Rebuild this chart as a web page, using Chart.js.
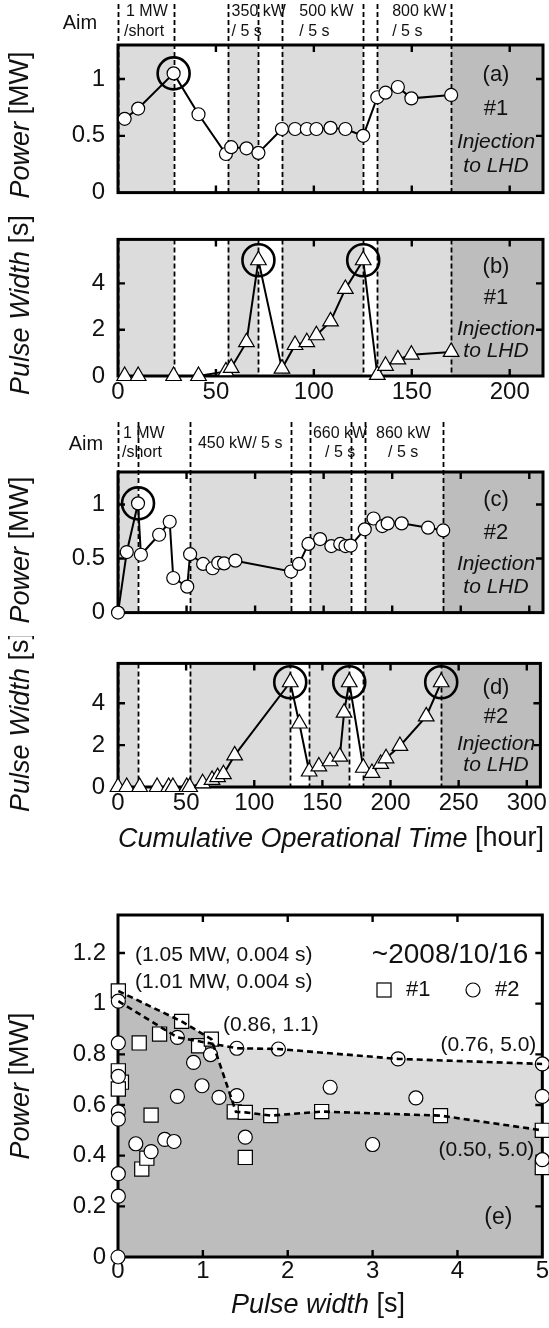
<!DOCTYPE html>
<html>
<head>
<meta charset="utf-8">
<title>Gyrotron operation history</title>
<script src="https://cdn.jsdelivr.net/npm/chart.js@4.4.1/dist/chart.umd.min.js"></script>
<style>
  html, body { margin: 0; padding: 0; background: #fff; }
  #page { position: relative; width: 549px; height: 1328px; overflow: hidden; }
  #page canvas { position: absolute; left: 0; }
</style>
</head>
<body>
<div id="page">
  <canvas id="chartA" width="549" height="220" style="top:0px"></canvas>
  <canvas id="chartB" width="549" height="200" style="top:212px"></canvas>
  <canvas id="chartC" width="549" height="235" style="top:405px"></canvas>
  <canvas id="chartD" width="549" height="224" style="top:636px"></canvas>
  <canvas id="chartE" width="549" height="468" style="top:860px"></canvas>
</div>
<script>
// Gyrotron #1 - panels (a) power and (b) pulse width vs cumulative hours
const hours1 = [3.4, 10.3, 28.4, 41.1, 55.1, 57.8, 65.6, 71.7, 83.7, 90.4, 96.4, 101.3, 108.5, 116.1, 125.2, 132.4, 136.6, 142.9, 149.8, 170.1];
const power1 = [0.65, 0.74, 1.05, 0.69, 0.34, 0.40, 0.39, 0.35, 0.56, 0.56, 0.56, 0.56, 0.57, 0.56, 0.50, 0.84, 0.88, 0.93, 0.83, 0.86];
const width1 = [0, 0, 0, 0, 0.2, 0.35, 1.46, 5.0, 0.32, 1.34, 1.46, 1.76, 2.36, 3.76, 5.0, 0.05, 0.44, 0.72, 0.92, 1.04];
const ring1a = [2];
const ring1b = [7, 14];

// Gyrotron #2 - panels (c) and (d)
const hours2c = [0, 6.4, 14.6, 16.7, 30, 37.7, 40.3, 50.5, 52.6, 62.1, 69, 73.1, 77.4, 85.6, 126.2, 132, 138.9, 147.4, 155.6, 162.1, 165.9, 169.7, 180, 186.4, 192.8, 196.7, 206.9, 226.2, 237.2];
const power2 = [0, 0.56, 1.01, 0.535, 0.72, 0.84, 0.32, 0.24, 0.54, 0.45, 0.41, 0.46, 0.455, 0.48, 0.38, 0.45, 0.635, 0.68, 0.615, 0.635, 0.615, 0.62, 0.77, 0.87, 0.80, 0.825, 0.825, 0.785, 0.76];
const ring2c = [2];
const hours2d = [0, 6.4, 15.9, 28.7, 37.2, 40.3, 50.5, 52.6, 62.1, 69, 73.1, 77.4, 85.6, 126.4, 133.1, 140.3, 147.4, 155.6, 162.8, 165.9, 169.7, 180, 186.4, 192.8, 196.7, 206.9, 226.2, 237.2];
const width2 = [0, 0, 0, 0, 0, 0, 0, 0, 0.18, 0.34, 0.47, 0.61, 1.51, 5.0, 3.03, 0.74, 0.98, 1.23, 1.45, 3.55, 5.0, 0.92, 0.67, 1.10, 1.37, 1.96, 3.37, 5.0];
const ring2d = [13, 20, 27];

// aim periods (hours): dashed boundaries, shaded spans, injection to LHD
const stepsAB = [0, 28.4, 56, 71.7, 83.7, 125.2, 132.4, 170.1];
const shadeOnAB = [0, 56, 83.7, 132.4];
const shadeOffAB = [28.4, 71.7, 125.2, 170.1];
const lhdFromAB = 170.1;
const aimTextAB = ['1 MW', '/short', '350 kW', '/ 5 s', '500 kW', '/ 5 s', '800 kW', '/ 5 s'];
const aimHourAB = [4.1, 3.1, 58, 58, 92.6, 92.6, 140, 140];
const aimRowAB = [0, 1, 0, 1, 0, 1, 0, 1];

const stepsCD = [0, 14.6, 52.6, 126.4, 140.3, 169.7, 180, 237.2];
const shadeOnCD = [0, 52.6, 140.3, 180];
const shadeOffCD = [14.6, 126.4, 169.7, 237.2];
const lhdFromCD = 237.2;
const aimTextCD = ['1 MW', '/short', '450 kW/ 5 s', '660 kW', '/ 5 s', '860 kW', '/ 5 s'];
const aimHourCD = [3.6, 2.9, 58.3, 142.2, 151, 188.2, 197];
const aimRowCD = [0, 1, 0.5, 0, 1, 0, 1];

// Panel (e): power vs pulse width
const e1Width = [0.004, 0.25, 0.49, 0.75, 0.95, 1.1, 0.004, 0.04, 0.004, 0.39, 1.37, 1.50, 1.80, 2.40, 3.80, 5.0, 0.28, 0.34, 1.50, 5.0];
const e1Power = [1.05, 0.845, 0.88, 0.93, 0.834, 0.86, 0.735, 0.69, 0.663, 0.56, 0.573, 0.571, 0.558, 0.574, 0.558, 0.50, 0.347, 0.39, 0.393, 0.353];
const e2Width = [0.004, 0.004, 0.004, 0.70, 1.40, 1.89, 3.30, 5.0, 1.09, 0.89, 0.99, 0.70, 1.19, 1.40, 2.50, 3.51, 5.0, 0.004, 0.004, 0.004, 0.004, 0, 0.21, 0.39, 0.55, 0.66, 1.50, 3.00, 5.0];
const e2Power = [1.01, 0.845, 0.713, 0.867, 0.824, 0.821, 0.782, 0.762, 0.799, 0.768, 0.676, 0.634, 0.63, 0.637, 0.67, 0.628, 0.634, 0.573, 0.544, 0.329, 0.24, 0, 0.447, 0.416, 0.464, 0.456, 0.473, 0.444, 0.384];
const env1Width = [0.004, 0.75, 1.1, 1.39, 1.5, 1.8, 2.4, 3.8, 5.0];
const env1Power = [1.05, 0.93, 0.86, 0.573, 0.571, 0.558, 0.574, 0.558, 0.50];
const env2Width = [0.004, 0.70, 1.40, 1.89, 3.30, 5.0];
const env2Power = [1.01, 0.867, 0.824, 0.821, 0.782, 0.762];

const FAM = '"Liberation Sans", Arial, Helvetica, sans-serif';
const LIGHT = '#dcdcdc', DARK = '#bdbdbd', INK = '#111';
const font = (size, italic) => (italic ? 'italic ' : '') + size + 'px ' + FAM;
const pts = (xs, ys) => xs.map((v, i) => ({ x: v, y: ys[i] }));
const pick = (xs, ys, idx) => idx.map(i => ({ x: xs[i], y: ys[i] }));
const fmt = v => String(Math.round(v * 100) / 100);

// mixed italic / upright text, centred on (x, y)
function richText(ctx, parts, x, y, size, rot) {
  ctx.save();
  ctx.translate(x, y);
  if (rot) ctx.rotate(rot);
  let total = 0;
  parts.forEach(p => { ctx.font = font(size, p[1]); total += ctx.measureText(p[0]).width; });
  let cx = -total / 2;
  ctx.fillStyle = INK;
  ctx.textAlign = 'left';
  ctx.textBaseline = 'middle';
  parts.forEach(p => {
    ctx.font = font(size, p[1]);
    ctx.fillText(p[0], cx, 0);
    cx += ctx.measureText(p[0]).width;
  });
  ctx.restore();
}

function drawFrame(chart) {
  const { ctx, chartArea: a, scales: { x, y } } = chart;
  const L = 7;
  ctx.save();
  ctx.setLineDash([]);
  ctx.strokeStyle = '#000';
  ctx.lineWidth = 2.4;
  ctx.beginPath();
  x.ticks.forEach(t => {
    if (t.value <= x.min || t.value >= x.max) return;
    const px = x.getPixelForValue(t.value);
    ctx.moveTo(px, a.bottom); ctx.lineTo(px, a.bottom - L);
    ctx.moveTo(px, a.top); ctx.lineTo(px, a.top + L);
  });
  y.ticks.forEach(t => {
    if (t.value <= y.min || t.value >= y.max) return;
    const py = y.getPixelForValue(t.value);
    ctx.moveTo(a.left, py); ctx.lineTo(a.left + L, py);
    ctx.moveTo(a.right, py); ctx.lineTo(a.right - L, py);
  });
  ctx.stroke();
  ctx.lineWidth = 3;
  ctx.strokeRect(a.left, a.top, a.right - a.left, a.bottom - a.top);
  ctx.restore();
}

function timePlugin(o) {
  return {
    id: 'time' + o.tag.replace(/\W/g, ''),
    beforeDatasetsDraw(chart) {
      const { ctx, chartArea: a, scales: { x } } = chart;
      ctx.save();
      ctx.fillStyle = LIGHT;
      o.shadeOn.forEach((s, i) => {
        const x0 = x.getPixelForValue(s), x1 = x.getPixelForValue(o.shadeOff[i]);
        ctx.fillRect(x0, a.top, x1 - x0, a.bottom - a.top);
      });
      ctx.fillStyle = DARK;
      const xd = x.getPixelForValue(o.lhdFrom);
      ctx.fillRect(xd, a.top, a.right - xd, a.bottom - a.top);
      ctx.strokeStyle = '#000';
      ctx.lineWidth = 1.8;
      ctx.setLineDash([5, 3]);
      o.steps.forEach(h => {
        const px = Math.round(x.getPixelForValue(h)) + 0.5;
        ctx.beginPath();
        ctx.moveTo(px, o.lineTop != null ? o.lineTop : a.top);
        ctx.lineTo(px, a.bottom);
        ctx.stroke();
      });
      ctx.restore();
      drawFrame(chart);
    },
    afterDraw(chart) {
      const { ctx, chartArea: a, scales: { x } } = chart;
      const h = a.bottom - a.top;
      ctx.save();
      ctx.fillStyle = INK;
      ctx.textAlign = 'center';
      ctx.textBaseline = 'middle';
      const fr = [0.2, 0.43, 0.655, 0.82];
      [[o.tag, false, 22], [o.unit, false, 22], ['Injection', true, 21], ['to LHD', true, 21]].forEach((t, i) => {
        ctx.font = font(t[2], t[1]);
        ctx.fillText(t[0], 496, a.top + fr[i] * h);
      });
      if (o.aimText) {
        ctx.font = font(20, false);
        ctx.fillText('Aim', o.aimX, o.aimRows[0] + (o.aimRows[1] - o.aimRows[0]) / 2 + 1);
        ctx.font = font(16, false);
        ctx.textAlign = 'left';
        o.aimText.forEach((t, i) => {
          const r = o.aimRow[i];
          ctx.fillText(t, x.getPixelForValue(o.aimHour[i]), o.aimRows[0] + r * (o.aimRows[1] - o.aimRows[0]));
        });
      }
      ctx.restore();
      richText(ctx, o.yTitle, 21, o.yTitleY, 27, -Math.PI / 2);
      if (o.xTitle) richText(ctx, o.xTitle, 331, o.xTitleY, 27, 0);
    }
  };
}

function timePanel(id, o) {
  const datasets = [
    {
      data: o.ring, showLine: false, pointRadius: 16, pointHoverRadius: 16,
      pointBackgroundColor: 'rgba(0,0,0,0)', pointBorderColor: '#000', pointBorderWidth: 2.6, clip: false
    },
    {
      data: o.points, showLine: true, borderColor: '#000', borderWidth: 2,
      pointStyle: o.marker, pointRadius: o.radius, pointHoverRadius: o.radius,
      pointBackgroundColor: '#fff', pointBorderColor: '#000', pointBorderWidth: 1.2, clip: false
    }
  ];
  return new Chart(document.getElementById(id), {
    type: 'scatter',
    data: { datasets },
    options: {
      responsive: false, animation: false, events: [],
      layout: { padding: { top: o.top, right: 6, left: 0, bottom: 0 }, autoPadding: false },
      plugins: { legend: { display: false }, tooltip: { enabled: false } },
      scales: {
        x: {
          type: 'linear', min: 0, max: o.xMax,
          afterFit: s => { s.height = o.xh; },
          grid: { display: false, drawTicks: false }, border: { display: false },
          ticks: { display: o.xLabels, stepSize: 50, includeBounds: false, padding: 2, color: INK, font: { family: FAM, size: 24 } }
        },
        y: {
          min: 0, max: o.yMax,
          afterFit: s => { s.width = 118; },
          grid: { display: false, drawTicks: false }, border: { display: false },
          ticks: { stepSize: o.yStep, includeBounds: false, padding: 13, color: INK, font: { family: FAM, size: 24 }, callback: fmt }
        }
      }
    },
    plugins: [timePlugin(o)]
  });
}

const powerTitle = [['Power', true], [' [MW]', false]];
const widthTitle = [['Pulse Width', true], [' [s]', false]];

timePanel('chartA', {
  tag: '(a)', unit: '#1', top: 45, xh: 15, xMax: 217, xLabels: false, yMax: 1.3, yStep: 0.5,
  points: pts(hours1, power1), ring: pick(hours1, power1, ring1a), marker: 'circle', radius: 6.5,
  steps: stepsAB, shadeOn: shadeOnAB, shadeOff: shadeOffAB, lhdFrom: lhdFromAB, lineTop: 4,
  aimText: aimTextAB, aimHour: aimHourAB, aimRow: aimRowAB, aimRows: [12, 32], aimX: 80,
  yTitle: powerTitle, yTitleY: 125
});
timePanel('chartB', {
  tag: '(b)', unit: '#1', top: 2, xh: 36, xMax: 217, xLabels: true, yMax: 5.9, yStep: 1,
  points: pts(hours1, width1), ring: pick(hours1, width1, ring1b), marker: 'triangle', radius: 9,
  steps: stepsAB, shadeOn: shadeOnAB, shadeOff: shadeOffAB, lhdFrom: lhdFromAB,
  yTitle: widthTitle, yTitleY: 93
});
timePanel('chartC', {
  tag: '(c)', unit: '#2', top: 67, xh: 8, xMax: 310, xLabels: false, yMax: 1.3, yStep: 0.5,
  points: pts(hours2c, power2), ring: pick(hours2c, power2, ring2c), marker: 'circle', radius: 6.5,
  steps: stepsCD, shadeOn: shadeOnCD, shadeOff: shadeOffCD, lhdFrom: lhdFromCD, lineTop: 17,
  aimText: aimTextCD, aimHour: aimHourCD, aimRow: aimRowCD, aimRows: [29, 48], aimX: 86,
  yTitle: powerTitle, yTitleY: 145
});
timePanel('chartD', {
  tag: '(d)', unit: '#2', top: 6, xh: 73, xMax: 310, xLabels: true, yMax: 5.9, yStep: 1,
  points: pts(hours2d, width2), ring: pick(hours2d, width2, ring2d), marker: 'triangle', radius: 9,
  steps: stepsCD, shadeOn: shadeOnCD, shadeOff: shadeOffCD, lhdFrom: lhdFromCD,
  yTitle: widthTitle, yTitleY: 86,
  xTitle: [['Cumulative Operational Time', true], [' [hour]', false]], xTitleY: 203
});

// ---- panel (e) ----
const ePlugin = {
  id: 'panelE',
  beforeDatasetsDraw(chart) { drawFrame(chart); },
  afterDraw(chart) {
    const { ctx, chartArea: a } = chart;
    ctx.save();
    ctx.fillStyle = INK;
    ctx.textBaseline = 'middle';
    ctx.font = font(21, false);
    ctx.textAlign = 'left';
    ctx.fillText('(1.05 MW, 0.004 s)', a.left + 17, a.top + 40);
    ctx.fillText('(1.01 MW, 0.004 s)', a.left + 17, a.top + 67);
    ctx.fillText('(0.86, 1.1)', a.left + 105, a.top + 110);
    ctx.textAlign = 'right';
    ctx.fillText('(0.76, 5.0)', a.right - 6, a.top + 130);
    ctx.fillText('(0.50, 5.0)', a.right - 8, a.top + 235);
    ctx.font = font(28, false);
    ctx.fillText('~2008/10/16', a.right - 14, a.top + 40);
    ctx.font = font(23, false);
    ctx.textAlign = 'center';
    ctx.fillText('(e)', a.right - 44, a.top + 303);
    // legend
    const ly = a.top + 75;
    ctx.strokeStyle = '#000';
    ctx.lineWidth = 1.2;
    ctx.fillStyle = '#fff';
    ctx.fillRect(377, ly - 7, 14, 14); ctx.strokeRect(377, ly - 7, 14, 14);
    ctx.beginPath(); ctx.arc(473, ly, 7, 0, Math.PI * 2); ctx.fill(); ctx.stroke();
    ctx.fillStyle = INK;
    ctx.font = font(22, false);
    ctx.textAlign = 'left';
    ctx.fillText('#1', 406, ly);
    ctx.fillText('#2', 495, ly);
    ctx.restore();
    richText(ctx, powerTitle, 21, 226, 27, -Math.PI / 2);
    richText(ctx, [['Pulse width', true], [' [s]', false]], 318, 445, 27, 0);
  }
};

new Chart(document.getElementById('chartE'), {
  type: 'scatter',
  data: {
    datasets: [
      {
        data: pts(env1Width, env1Power), showLine: true, borderColor: '#000', borderWidth: 2.6,
        borderDash: [6, 4], pointRadius: 0, fill: 'origin', backgroundColor: DARK
      },
      {
        data: pts(env2Width, env2Power), showLine: true, borderColor: '#000', borderWidth: 2.6,
        borderDash: [6, 4], pointRadius: 0, fill: 'origin', backgroundColor: LIGHT
      },
      {
        label: '#2', data: pts(e2Width, e2Power), showLine: false, pointStyle: 'circle',
        pointRadius: 7, pointBackgroundColor: '#fff', pointBorderColor: '#000', pointBorderWidth: 1.2, clip: false
      },
      {
        label: '#1', data: pts(e1Width, e1Power), showLine: false, pointStyle: 'rect',
        pointRadius: 10, pointBackgroundColor: '#fff', pointBorderColor: '#000', pointBorderWidth: 1.2, clip: false
      }
    ]
  },
  options: {
    responsive: false, animation: false, events: [],
    layout: { padding: { top: 55, right: 6, left: 0, bottom: 0 }, autoPadding: false },
    plugins: { legend: { display: false }, tooltip: { enabled: false }, filler: { drawTime: 'beforeDatasetsDraw' } },
    scales: {
      x: {
        type: 'linear', min: 0, max: 5,
        afterFit: s => { s.height = 71; },
        grid: { display: false, drawTicks: false }, border: { display: false },
        ticks: { stepSize: 1, includeBounds: false, padding: 0, color: INK, font: { family: FAM, size: 24 } }
      },
      y: {
        min: 0, max: 1.35,
        afterFit: s => { s.width = 118; },
        grid: { display: false, drawTicks: false }, border: { display: false },
        ticks: { stepSize: 0.2, includeBounds: false, padding: 12, color: INK, font: { family: FAM, size: 24 }, callback: fmt }
      }
    }
  },
  plugins: [ePlugin]
});
</script>
</body>
</html>
